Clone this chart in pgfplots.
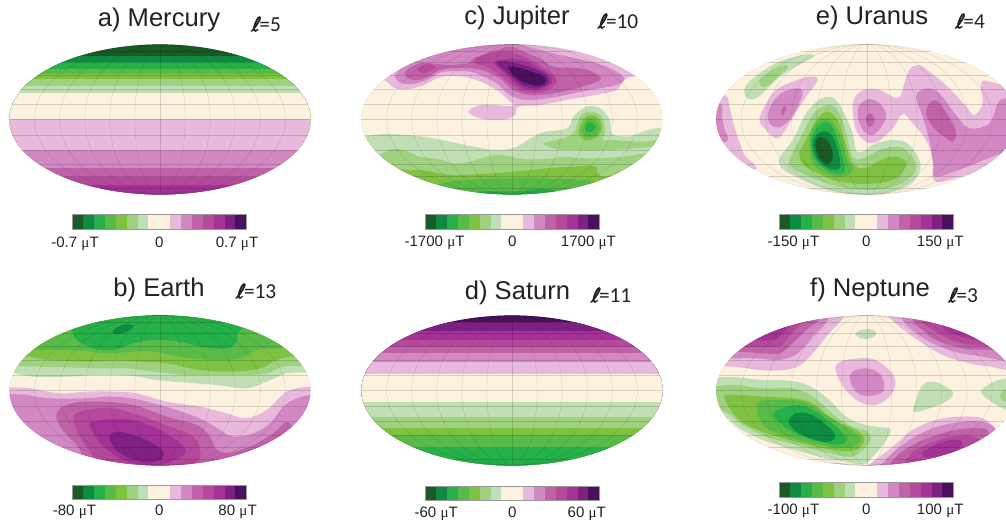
\documentclass[border=0pt]{standalone}
\usepackage{pgfplots}
\pgfplotsset{compat=1.18}
\usepackage{fontspec}
\setmainfont{Liberation Sans}
\newfontfamily\mufont{Liberation Serif}
\newfontfamily\ellfont{Carlito}
\newfontfamily\ellsym[FakeBold=2,FakeSlant=0.2]{DejaVu Sans}
\definecolor{c1}{HTML}{1B5A24}
\definecolor{c2}{HTML}{0F8A43}
\definecolor{c3}{HTML}{25B04A}
\definecolor{c4}{HTML}{58BB48}
\definecolor{c5}{HTML}{7FC241}
\definecolor{c6}{HTML}{9ED27F}
\definecolor{c7}{HTML}{C0DFB5}
\definecolor{c8}{HTML}{FDF2DF}
\definecolor{c9}{HTML}{E8B9DC}
\definecolor{c10}{HTML}{D288C2}
\definecolor{c11}{HTML}{C062A8}
\definecolor{c12}{HTML}{B54A9D}
\definecolor{c13}{HTML}{A43297}
\definecolor{c14}{HTML}{7F2182}
\definecolor{c15}{HTML}{481159}
\definecolor{txt}{HTML}{222222}
\newcommand\R[2]{\addplot[fill=#1,draw=none,smooth cycle,tension=0.6] coordinates {#2};}
\newcommand\B[2]{\addplot[fill=#1,draw=none] coordinates {(0,#2)(990,#2)(990,780)(0,780)};}
\tikzset{gr/.style={black,opacity=0.15,line width=0.25pt}}
\newcommand\mer[3]{\draw[gr] (axis cs:#1,#2) ellipse [x radius=#3, y radius=225];}
\newcommand\plat[2]{\draw[gr] (axis cs:0,#1-#2)--(axis cs:990,#1-#2);\draw[gr] (axis cs:0,#1+#2)--(axis cs:990,#1+#2);}
\newcommand\grat[2]{%
  \mer{#1}{#2}{75.3}\mer{#1}{#2}{150.6}\mer{#1}{#2}{225.9}\mer{#1}{#2}{301.2}\mer{#1}{#2}{376.5}\mer{#1}{#2}{451.8}
  \draw[gr] (axis cs:#1,#2-225)--(axis cs:#1,#2+225);
  \draw[gr] (axis cs:0,#2)--(axis cs:990,#2);
  \plat{#2}{46}\plat{#2}{91}\plat{#2}{133}\plat{#2}{171}\plat{#2}{205}
}
\pgfplotsset{
  mapax/.style n args={3}{at={(#1*0.75pt,-#2*0.75pt)},anchor=north west,
    scale only axis,width=#3*0.25pt,height=195pt,xmin=0,xmax=#3,ymin=0,ymax=780,y dir=reverse,hide axis},
}
\newcommand\cbarplots{%
  \addplot[fill=c1,draw=none] coordinates {(0,0)(1,0)(1,1)(0,1)};
  \addplot[fill=c2,draw=none] coordinates {(1,0)(2,0)(2,1)(1,1)};
  \addplot[fill=c3,draw=none] coordinates {(2,0)(3,0)(3,1)(2,1)};
  \addplot[fill=c4,draw=none] coordinates {(3,0)(4,0)(4,1)(3,1)};
  \addplot[fill=c5,draw=none] coordinates {(4,0)(5,0)(5,1)(4,1)};
  \addplot[fill=c6,draw=none] coordinates {(5,0)(6,0)(6,1)(5,1)};
  \addplot[fill=c7,draw=none] coordinates {(6,0)(7,0)(7,1)(6,1)};
  \addplot[fill=c8,draw=none] coordinates {(7,0)(9,0)(9,1)(7,1)};
  \addplot[fill=c9,draw=none] coordinates {(9,0)(10,0)(10,1)(9,1)};
  \addplot[fill=c10,draw=none] coordinates {(10,0)(11,0)(11,1)(10,1)};
  \addplot[fill=c11,draw=none] coordinates {(11,0)(12,0)(12,1)(11,1)};
  \addplot[fill=c12,draw=none] coordinates {(12,0)(13,0)(13,1)(12,1)};
  \addplot[fill=c13,draw=none] coordinates {(13,0)(14,0)(14,1)(13,1)};
  \addplot[fill=c14,draw=none] coordinates {(14,0)(15,0)(15,1)(14,1)};
  \addplot[fill=c15,draw=none] coordinates {(15,0)(16,0)(16,1)(15,1)};
}
\newcommand\ut{~{\mufont μ}T}
% args: x0, ytop, height px, tick positions, tick labels, label shift px
\newcommand\cbar[6]{%
\begin{axis}[at={(#1*0.75pt,-#2*0.75pt)},anchor=north west,scale only axis,width=130.5pt,height=#3*0.75pt,
  xmin=0,xmax=16,ymin=0,ymax=1,axis line style={draw=black!40,line width=0.3pt},
  major tick length=0pt,ytick=\empty,xtick={#4},xticklabels={#5},
  xticklabel style={font=\fontsize{11.3}{12}\selectfont,text=txt,anchor=center,yshift=-#6*0.75pt,inner sep=0pt,text height=8pt,text depth=0pt},
  axis on top]
\cbarplots
\end{axis}}
\newcommand\ttl[6]{%
 \path (#1*0.75pt,-#2*0.75pt) node[anchor=center,inner sep=0pt,text=txt] {\fontsize{19.2}{21}\selectfont #3};%
 \path (#4*0.75pt,-#5*0.75pt) node[anchor=center,inner sep=0pt,text=txt] {{\fontsize{15}{16}\selectfont\ellsym ℓ}{\fontsize{16}{18}\selectfont\ellfont =#6}};%
}
\newcommand\clipell[2]{\clip (#1*0.75pt,-#2*0.75pt) ellipse [x radius=150.6*0.75pt,y radius=75*0.75pt];}
\begin{document}
\begin{tikzpicture}
\useasboundingbox (0,0) rectangle (754.5pt,-390pt);
% ---------- a) Mercury
\begin{scope}\clipell{160}{119.4}
\begin{axis}[mapax={0}{0}{990}]
\B{c1}{100}\B{c2}{168}\B{c3}{187}\B{c4}{206}\B{c5}{222}\B{c6}{238}\B{c7}{258}\B{c8}{278}
\B{c9}{358}\B{c10}{450}\B{c11}{505}\B{c12}{532}\B{c13}{555}
\grat{480}{358}
\end{axis}\end{scope}
% ---------- c) Jupiter
\begin{scope}\clipell{512}{119.4}
\begin{axis}[mapax={340}{0}{990}]
\B{c8}{100}
\R{c9}{(60,100)(60,240)(130,240)(160,262)(200,268)(250,255)(300,232)(350,228)(410,240)(470,270)(505,300)(520,318)(440,314)(405,320)(385,335)(405,350)(440,358)(495,358)(525,345)(535,320)(600,315)(680,300)(780,282)(830,270)(855,238)(890,230)(990,240)(990,100)}
\R{c10}{(165,225)(185,250)(230,250)(280,230)(310,215)(390,215)(430,230)(470,250)(510,285)(560,300)(640,292)(750,270)(830,255)(852,232)(800,200)(730,180)(660,165)(600,150)(530,133)(440,125)(350,140)(260,165)(200,195)}
\R{c11}{(195,225)(210,238)(245,238)(290,215)(330,205)(400,205)(440,215)(480,235)(520,270)(570,285)(640,280)(720,262)(780,240)(770,222)(720,205)(640,200)(600,175)(550,155)(515,140)(470,150)(400,175)(385,190)(330,195)(290,192)(240,190)(200,210)}
\R{c12}{(235,210)(250,220)(285,205)(280,195)(250,195)}
\R{c12}{(400,185)(440,200)(480,225)(530,265)(570,278)(620,272)(650,245)(640,225)(590,190)(540,165)(490,155)(430,165)}
\R{c13}{(465,190)(500,225)(540,262)(590,270)(635,250)(630,225)(590,200)(545,180)(490,178)}
\R{c14}{(470,190)(510,225)(545,255)(590,265)(625,250)(620,225)(580,205)(530,190)(490,183)}
\R{c15}{(505,205)(530,235)(560,250)(600,257)(617,245)(610,228)(575,215)(535,202)(510,200)}
\R{c7}{(0,410)(75,408)(100,405)(150,402)(250,410)(330,425)(400,440)(470,450)(530,440)(600,400)(680,385)(700,350)(740,320)(780,325)(810,360)(815,400)(860,410)(990,412)(990,780)(0,780)}
\R{c6}{(610,430)(650,420)(700,400)(720,350)(750,335)(785,350)(795,390)(790,420)(820,420)(900,425)(990,420)(930,440)(800,450)(680,450)(640,445)}
\R{c6}{(0,500)(95,480)(145,450)(190,450)(240,470)(300,478)(340,490)(390,485)(470,465)(560,478)(640,475)(665,470)(750,475)(850,470)(915,460)(990,460)(990,780)(0,780)}
\R{c5}{(715,395)(730,358)(755,345)(780,360)(785,390)(765,415)(735,420)}
\R{c4}{(725,385)(750,355)(778,375)(770,405)(740,412)}
\R{c3}{(735,385)(750,368)(768,380)(750,398)}
\R{c5}{(100,540)(170,510)(210,510)(260,512)(330,525)(420,522)(520,515)(620,505)(700,500)(765,498)(772,520)(800,530)(870,510)(990,540)(990,780)(0,780)}
\R{c4}{(230,600)(300,552)(400,538)(500,535)(600,535)(700,538)(770,548)(800,600)(700,700)(300,700)}
\R{c3}{(400,578)(520,574)(640,570)(700,620)(520,660)(340,620)}
\grat{516}{358}
\end{axis}\end{scope}
% ---------- e) Uranus
\begin{scope}\clipell{866.7}{119.4}
\begin{axis}[mapax={696}{0}{930}]
\B{c8}{100}
\R{c7}{(145,270)(150,290)(170,298)(200,280)(240,240)(290,205)(345,175)(355,165)(320,165)(250,185)(190,220)(155,250)}
\R{c6}{(190,245)(195,258)(215,258)(250,225)(275,205)(270,195)(240,205)(205,228)}
\R{c9}{(85,285)(100,320)(112,370)(128,420)(145,465)(175,510)(0,510)(0,285)}
\R{c10}{(72,310)(78,350)(85,385)(92,425)(0,425)(0,310)}
\R{c9}{(190,360)(205,385)(240,415)(265,395)(295,345)(330,290)(365,240)(340,230)(290,245)(240,270)(205,320)}
\R{c10}{(215,350)(225,375)(250,382)(280,360)(305,320)(320,275)(300,265)(255,280)(225,315)}
\R{c11}{(255,335)(262,345)(270,325)(265,318)}
\R{c7}{(250,475)(258,505)(300,530)(380,565)(480,585)(560,582)(640,555)(670,515)(670,480)(640,435)(600,420)(540,430)(500,455)(480,450)(470,400)(440,330)(420,300)(400,290)(370,300)(330,340)(290,420)}
\R{c6}{(280,480)(285,500)(340,530)(430,560)(520,570)(600,558)(650,525)(660,490)(630,450)(600,440)(550,450)(500,475)(470,470)(450,400)(430,340)(405,315)(380,320)(350,345)(310,420)}
\R{c5}{(310,465)(330,500)(400,535)(470,550)(540,550)(600,535)(630,490)(600,470)(555,480)(505,505)(470,490)(445,420)(425,360)(395,335)(365,355)(330,420)}
\R{c4}{(340,430)(350,490)(390,520)(440,530)(470,510)(455,480)(430,400)(405,362)(380,355)(350,385)}
\R{c3}{(345,430)(358,480)(400,513)(440,520)(445,490)(425,420)(405,375)(380,368)(355,395)}
\R{c2}{(350,435)(365,480)(400,505)(430,505)(430,470)(415,420)(395,395)(375,395)(358,410)}
\R{c1}{(358,435)(370,475)(395,492)(410,475)(405,440)(385,413)(365,415)}
\R{c9}{(470,330)(478,290)(510,268)(550,270)(590,290)(612,290)(625,250)(640,210)(665,195)(700,215)(760,265)(810,320)(835,345)(860,310)(855,255)(880,245)(1000,300)(1000,480)(830,520)(720,545)(710,480)(690,420)(650,370)(620,342)(590,385)(545,425)(510,425)(480,390)}
\R{c10}{(485,345)(490,315)(520,297)(550,310)(570,340)(560,375)(530,405)(505,395)(490,370)}
\R{c11}{(510,355)(522,340)(535,355)(530,375)(518,380)}
\R{c10}{(660,290)(690,265)(730,280)(780,345)(820,385)(880,370)(905,310)(930,295)(1000,295)(1000,440)(930,455)(800,505)(720,530)(712,490)(700,420)(680,350)}
\R{c11}{(690,340)(705,305)(725,305)(755,345)(780,395)(770,425)(745,410)(710,380)}
\grat{512}{358}
\end{axis}\end{scope}
% ---------- b) Earth
\begin{scope}\clipell{160}{390.4}
\begin{axis}[mapax={0}{260}{990}]
\B{c8}{100}
\R{c7}{(0,338)(35,338)(100,350)(200,350)(300,345)(400,348)(470,360)(560,368)(650,375)(740,385)(800,365)(860,340)(915,338)(990,338)(990,100)(0,100)}
\R{c6}{(0,318)(50,318)(110,320)(200,322)(300,325)(380,325)(460,335)(560,345)(650,345)(740,345)(800,340)(850,320)(905,318)(990,318)(990,100)(0,100)}
\R{c5}{(0,290)(75,290)(150,300)(250,305)(340,302)(420,305)(500,310)(600,330)(700,335)(780,325)(830,300)(880,290)(990,290)(990,100)(0,100)}
\R{c4}{(0,270)(100,270)(170,270)(240,272)(320,280)(400,275)(460,275)(540,290)(640,300)(720,295)(770,270)(850,265)(990,265)(990,100)(0,100)}
\R{c3}{(190,170)(215,210)(230,240)(280,265)(340,270)(400,250)(460,240)(540,245)(610,262)(680,265)(710,245)(715,215)(760,170)(480,140)}
\R{c2}{(338,218)(355,222)(385,212)(400,197)(380,193)(350,203)}
\R{c9}{(0,382)(30,382)(90,385)(180,400)(260,395)(340,395)(410,400)(500,425)(600,440)(680,460)(740,475)(800,450)(860,395)(925,380)(990,380)(990,700)(0,700)}
\R{c10}{(0,402)(30,402)(80,405)(150,415)(250,415)(340,410)(420,420)(530,450)(610,480)(660,510)(700,530)(760,520)(810,490)(850,440)(880,420)(928,405)(990,405)(990,700)(0,700)}
\R{c11}{(172,455)(215,430)(300,425)(400,435)(500,470)(590,495)(630,530)(650,570)(690,578)(760,555)(820,520)(870,490)(900,620)(600,700)(300,700)(240,570)(205,530)(175,490)}
\R{c12}{(220,470)(260,450)(340,445)(430,470)(510,500)(580,530)(600,570)(590,605)(500,640)(300,640)(280,590)(240,530)}
\R{c13}{(270,490)(320,478)(400,480)(480,510)(540,550)(555,580)(500,610)(440,615)(370,600)(310,560)(280,520)}
\R{c14}{(328,530)(350,515)(400,525)(450,545)(490,575)(480,600)(430,605)(380,590)(345,565)}
\grat{480}{391}
\end{axis}\end{scope}
% ---------- d) Saturn
\begin{scope}\clipell{512}{390.4}
\begin{axis}[mapax={340}{260}{990}]
\B{c15}{100}\B{c14}{187}\B{c13}{212}\B{c12}{240}\B{c11}{262}\B{c10}{280}\B{c9}{305}\B{c8}{343}
\B{c7}{427}\B{c6}{470}\B{c5}{505}\B{c4}{525}\B{c3}{565}
\grat{516}{391}
\end{axis}\end{scope}
% ---------- f) Neptune
\begin{scope}\clipell{866.7}{390.4}
\begin{axis}[mapax={696}{260}{930}]
\B{c8}{100}
\R{c9}{(440,110)(440,172)(395,225)(350,280)(300,322)(220,332)(130,322)(75,318)(0,318)(0,110)}
\R{c10}{(390,120)(395,180)(350,230)(305,280)(250,300)(180,295)(100,295)(0,295)(0,120)}
\R{c11}{(0,285)(110,275)(200,280)(250,280)(290,250)(330,210)(370,178)(370,130)(0,130)}
\R{c12}{(0,265)(130,262)(200,260)(250,260)(280,230)(310,195)(340,178)(340,130)(0,130)}
\R{c13}{(180,240)(230,240)(260,220)(285,190)(270,150)(180,170)(150,228)}
\R{c9}{(575,130)(590,180)(630,215)(680,250)(740,285)(800,305)(870,318)(1000,320)(1000,130)}
\R{c10}{(620,130)(620,178)(650,210)(700,245)(760,270)(830,285)(1000,295)(1000,130)}
\R{c11}{(650,130)(650,180)(680,210)(720,240)(800,265)(880,270)(1000,280)(1000,130)}
\R{c12}{(680,130)(680,185)(720,215)(780,245)(860,258)(1000,265)(1000,130)}
\R{c13}{(740,130)(740,200)(780,225)(850,240)(1000,250)(1000,130)}
\R{c7}{(478,222)(495,210)(525,208)(542,222)(520,235)(495,235)}
\R{c9}{(420,335)(425,310)(470,297)(530,297)(580,330)(598,365)(585,405)(540,435)(490,425)(445,385)}
\R{c10}{(462,360)(470,335)(510,325)(550,340)(565,375)(555,400)(510,408)(480,395)}
\R{c7}{(653,455)(660,420)(680,375)(710,365)(750,380)(772,400)(750,425)(700,445)}
\R{c7}{(855,395)(885,370)(930,355)(1000,355)(1000,490)(930,450)(885,425)}
\R{c6}{(920,420)(925,390)(1000,380)(1000,440)}
\R{c9}{(40,480)(85,480)(150,530)(250,580)(350,605)(470,620)(500,700)(40,700)}
\R{c10}{(120,530)(220,575)(350,610)(480,622)(480,700)(120,700)}
\R{c7}{(0,352)(55,352)(120,352)(200,360)(280,362)(340,378)(400,420)(450,470)(510,495)(578,505)(582,520)(560,555)(530,590)(505,612)(440,603)(370,590)(280,565)(200,540)(130,505)(85,470)(0,440)}
\R{c6}{(0,378)(60,378)(120,375)(200,385)(290,385)(350,410)(420,470)(470,500)(515,515)(522,545)(490,578)(460,590)(380,575)(290,552)(210,530)(140,495)(85,455)(0,430)}
\R{c5}{(85,412)(130,405)(200,410)(290,415)(350,430)(410,480)(480,510)(505,540)(480,570)(430,572)(360,560)(280,540)(200,515)(130,480)}
\R{c4}{(185,430)(240,420)(320,425)(400,470)(470,515)(495,540)(470,560)(420,562)(340,548)(260,525)(200,495)}
\R{c3}{(232,465)(270,440)(330,440)(395,480)(445,525)(445,550)(410,553)(350,540)(280,510)}
\R{c2}{(278,480)(300,460)(340,462)(385,490)(415,520)(412,540)(380,545)(320,525)(290,505)}
\R{c9}{(500,640)(520,615)(590,560)(650,510)(720,480)(790,470)(860,475)(905,510)(1000,560)(800,700)}
\R{c10}{(570,640)(570,600)(640,540)(710,505)(780,488)(850,485)(900,510)(950,640)}
\R{c11}{(600,640)(600,590)(660,550)(720,525)(780,510)(840,505)(880,520)(900,640)}
\R{c12}{(640,640)(640,585)(700,550)(770,530)(830,530)(870,560)(850,640)}
\R{c13}{(680,578)(730,550)(775,538)(800,550)(770,580)(700,595)}
\grat{512}{391}
\end{axis}\end{scope}
% ---------- colour bars
\cbar{72.3}{214.3}{14.7}{0.25,8,15.15}{-0.7\ut,0,0.7\ut}{13.5}
\cbar{425.3}{214.3}{14.7}{0.85,8,15.0}{-1700\ut,0,1700\ut}{12.5}
\cbar{779.3}{214.3}{14.7}{1.3,8,14.8}{-150\ut,0,150\ut}{12.5}
\cbar{72.3}{485}{14}{0.2,8,15.2}{-80\ut,0,80\ut}{11.5}
\cbar{425.3}{485.7}{14.3}{1.0,8,14.85}{-60\ut,0,60\ut}{12.5}
\cbar{779.3}{482.3}{15}{1.3,8,14.8}{-100\ut,0,100\ut}{12}
% ---------- titles
\ttl{159}{20}{a) Mercury}{266}{24}{5}
\ttl{517}{18}{c) Jupiter}{618}{21}{10}
\ttl{872}{18}{e) Uranus}{970}{21}{4}
\ttl{159}{290}{b) Earth}{256}{291}{13}
\ttl{517.5}{293}{d) Saturn}{611}{295}{11}
\ttl{870}{290}{f) Neptune}{963}{295}{3}
\end{tikzpicture}
\end{document}
